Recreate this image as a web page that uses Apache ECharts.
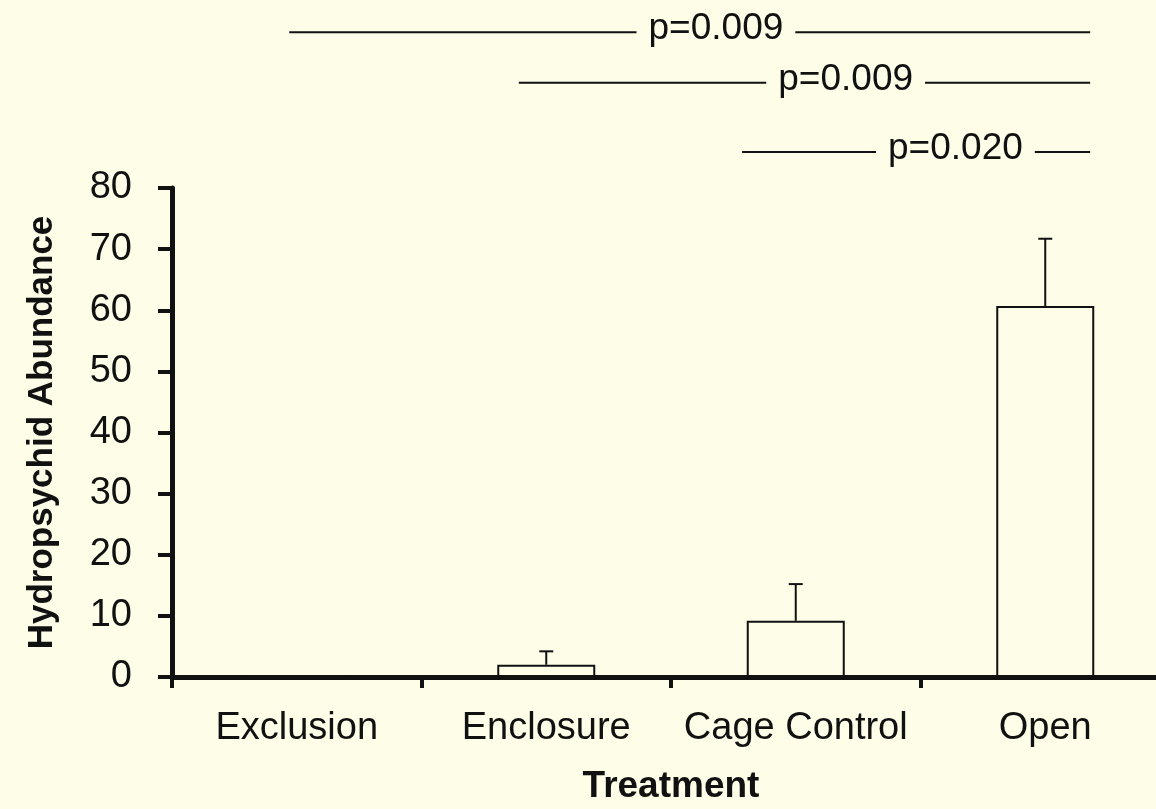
<!DOCTYPE html>
<html>
<head>
<meta charset="utf-8">
<script src="https://cdn.jsdelivr.net/npm/echarts@6/dist/echarts.min.js"></script>
<style>
  html, body { margin: 0; padding: 0; background: #fdfde8; }
  #chart { width: 1156px; height: 809px; }
</style>
</head>
<body>
<div id="chart"></div>
<script>
// ---- data ----
const categories = ['Exclusion', 'Enclosure', 'Cage Control', 'Open'];
const means = [0, 2.0, 9.2, 60.7];
const errors = [0, 2.2, 6.0, 11.0];
const yTicks = [0, 10, 20, 30, 40, 50, 60, 70, 80];

// significance annotations (x in category units, level in y units)
const sigLabels = ['p=0.009', 'p=0.009', 'p=0.020'];
const sigStart = [-0.03, 0.89, 1.785];
const sigEnd = [3.18, 3.18, 3.18];
const sigTextAt = [1.68, 2.20, 2.64];
const sigLevel = [105.5, 97.2, 85.9];

const BG = '#fdfde8';
const INK = '#111111';
const FONT = '"Liberation Sans", Arial, Helvetica, sans-serif';

const chart = echarts.init(document.getElementById('chart'), null, { renderer: 'canvas' });

const errData = categories.map((c, i) => [i, means[i], means[i] + errors[i]]);
const sigData = sigLabels.map((l, i) => [sigStart[i], sigEnd[i], sigTextAt[i], sigLevel[i]]);

const option = {
  backgroundColor: BG,
  animation: false,
  grid: { left: 172, width: 998, top: 188, height: 489, containLabel: false, outerBoundsMode: 'none' },
  xAxis: [
    {
      type: 'category',
      data: categories,
      boundaryGap: true,
      axisLine: { show: true, onZero: false, lineStyle: { color: INK, width: 5 } },
      axisTick: { show: true, interval: 0, alignWithLabel: false, length: 11, lineStyle: { color: INK, width: 4 } },
      axisLabel: { interval: 0, color: INK, fontSize: 38, fontFamily: FONT, margin: 33 },
      splitLine: { show: false },
      name: 'Treatment',
      nameLocation: 'middle',
      nameGap: 91,
      nameTextStyle: { color: INK, fontSize: 37, fontWeight: 'bold', fontFamily: FONT }
    },
    {
      type: 'value',
      min: -0.5,
      max: 3.5,
      show: false
    }
  ],
  yAxis: {
    type: 'value',
    min: yTicks[0],
    max: yTicks[yTicks.length - 1],
    interval: yTicks[1] - yTicks[0],
    axisLine: { show: true, onZero: false, lineStyle: { color: INK, width: 5 } },
    axisTick: { show: true, inside: false, length: 14, lineStyle: { color: INK, width: 4 } },
    axisLabel: { color: INK, fontSize: 38, fontFamily: FONT, margin: 40 },
    splitLine: { show: false },
    name: 'Hydropsychid Abundance',
    nameLocation: 'middle',
    nameGap: 112,
    nameTextStyle: { color: INK, fontSize: 35, fontWeight: 'bold', fontFamily: FONT }
  },
  series: [
    {
      type: 'bar',
      xAxisIndex: 0,
      data: means,
      barWidth: 98,
      itemStyle: { color: 'rgba(0,0,0,0)', borderColor: INK, borderWidth: 2 },
      z: 3
    },
    {
      type: 'custom',
      xAxisIndex: 0,
      data: errData,
      z: 4,
      renderItem: function (params, api) {
        if (api.value(2) <= api.value(1)) return null;
        const base = api.coord([api.value(0), api.value(1)]);
        const top = api.coord([api.value(0), api.value(2)]);
        const cap = 7;
        return {
          type: 'group',
          children: [
            { type: 'line', shape: { x1: base[0], y1: base[1], x2: top[0], y2: top[1] }, style: { stroke: INK, lineWidth: 2 } },
            { type: 'line', shape: { x1: top[0] - cap, y1: top[1], x2: top[0] + cap, y2: top[1] }, style: { stroke: INK, lineWidth: 2 } }
          ]
        };
      }
    },
    {
      type: 'custom',
      xAxisIndex: 1,
      data: sigData,
      clip: false,
      z: 5,
      renderItem: function (params, api) {
        const s = api.coord([api.value(0), api.value(3)]);
        const e = api.coord([api.value(1), api.value(3)]);
        const t = api.coord([api.value(2), api.value(3)]);
        return {
          type: 'group',
          children: [
            { type: 'line', shape: { x1: s[0], y1: s[1], x2: e[0], y2: e[1] }, style: { stroke: INK, lineWidth: 2 } },
            {
              type: 'text', x: t[0], y: t[1] - 3, z2: 10,
              style: {
                text: sigLabels[params.dataIndex],
                fontSize: 37, fontFamily: FONT, fill: INK,
                align: 'center', verticalAlign: 'middle',
                backgroundColor: BG, padding: [0, 12]
              }
            }
          ]
        };
      }
    }
  ]
};

chart.setOption(option);
</script>
</body>
</html>
